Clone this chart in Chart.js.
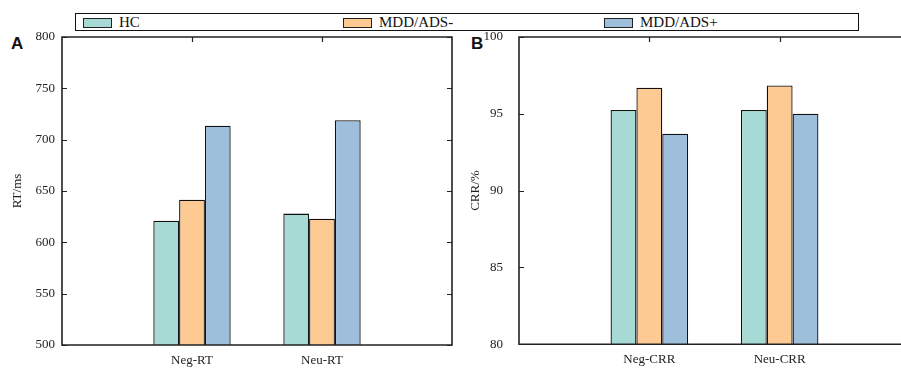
<!DOCTYPE html>
<html>
<head>
<meta charset="utf-8">
<script src="https://cdn.jsdelivr.net/npm/chart.js@4/dist/chart.umd.min.js"></script>
<style>
  html, body { margin:0; padding:0; background:#fff; }
  body { width:901px; height:368px; overflow:hidden; position:relative; font-family:"Liberation Serif", serif; }
  canvas { position:absolute; top:0; }
  #cA { left:0; }
  #cB { left:460px; }
  .letter { position:absolute; font-family:"Liberation Sans", Arial, sans-serif; font-weight:bold; font-size:17px; line-height:16px; color:#111; }
  #legend { position:absolute; left:75px; top:13px; width:782px; height:16px; border:1px solid #111; }
  .sw { position:absolute; top:4px; width:27px; height:8px; border:1px solid #222; }
  .lt { position:absolute; top:0px; font-size:15px; line-height:17px; color:#111; white-space:nowrap; }
</style>
</head>
<body>
<div id="legend"></div>
<div class="letter" style="left:11px; top:36px;">A</div>
<div class="letter" style="left:471px; top:36px;">B</div>
<canvas id="cA" width="460" height="368"></canvas>
<canvas id="cB" width="460" height="368"></canvas>
<script>
// ---- data ----
const seriesNames = ['HC', 'MDD/ADS-', 'MDD/ADS+'];
const seriesColors = ['#a7dad4', '#fdca93', '#9dbfdb'];

const categoriesRT = ['Neg-RT', 'Neu-RT'];
const rtHC = [621, 628];
const rtADSminus = [641.5, 623];
const rtADSplus = [713.5, 719];
const rtTicks = [500, 550, 600, 650, 700, 750, 800];

const categoriesCRR = ['Neg-CRR', 'Neu-CRR'];
const crrHC = [95.25, 95.25];
const crrADSminus = [96.7, 96.85];
const crrADSplus = [93.7, 95.0];
const crrTicks = [80, 85, 90, 95, 100];

// ---- legend ----
const legend = document.getElementById('legend');
const legendX = [7, 267, 528];
seriesNames.forEach((n, i) => {
  const sw = document.createElement('div');
  sw.className = 'sw';
  sw.style.left = legendX[i] + 'px';
  sw.style.background = seriesColors[i];
  legend.appendChild(sw);
  const t = document.createElement('div');
  t.className = 'lt';
  t.style.left = (legendX[i] + 36) + 'px';
  t.textContent = n;
  legend.appendChild(t);
});

Chart.defaults.font.family = '"Liberation Serif", "Times New Roman", serif';
Chart.defaults.font.size = 13;
Chart.defaults.color = '#222';

const framePlugin = {
  id: 'frame',
  afterDatasetsDraw(chart) {
    const { ctx, chartArea: a, scales } = chart;
    const y = scales.y, x = scales.x;
    ctx.save();
    ctx.strokeStyle = '#222';
    ctx.lineWidth = 1.6;
    ctx.beginPath();
    ctx.rect(a.left, a.top, a.right - a.left, a.bottom - a.top);
    ctx.stroke();
    ctx.lineWidth = 1.2;
    ctx.beginPath();
    y.ticks.forEach(t => {
      const py = Math.round(y.getPixelForValue(t.value)) + 0.5;
      ctx.moveTo(a.left, py); ctx.lineTo(a.left + 5, py);
      ctx.moveTo(a.right, py); ctx.lineTo(a.right - 5, py);
    });
    x.ticks.forEach((t, i) => {
      const lbl = chart.data.labels[i];
      if (!lbl) return;
      const px = Math.round(x.getPixelForTick(i)) + 0.5;
      ctx.moveTo(px, a.top); ctx.lineTo(px, a.top + 5);
    });
    ctx.stroke();
    ctx.restore();
  }
};

function pad(arr) { return [null, ...arr, null]; }

function makeChart(id, cats, sets, ticks, min, max, title, yWidth, tickPad, titlePad, rightPad) {
  return new Chart(document.getElementById(id), {
    type: 'bar',
    data: {
      labels: ['', ...cats, ''],
      datasets: sets.map((d, i) => ({
        label: seriesNames[i],
        data: pad(d),
        backgroundColor: seriesColors[i],
        borderColor: '#111',
        borderWidth: 1.3,
        borderSkipped: false,
        barPercentage: 1,
        categoryPercentage: 0.595
      }))
    },
    options: {
      responsive: false,
      animation: false,
      events: [],
      layout: { padding: { top: 37, right: rightPad, left: 0, bottom: 0 } },
      plugins: { legend: { display: false }, tooltip: { enabled: false } },
      scales: {
        x: {
          type: 'category',
          offset: false,
          grid: { display: false, drawTicks: false },
          border: { display: false },
          ticks: { autoSkip: false, maxRotation: 0, minRotation: 0, padding: 8, color: '#222', font: { size: 13 } },
          afterFit(s) { s.height = 23; }
        },
        y: {
          min: min, max: max,
          afterBuildTicks(s) { s.ticks = ticks.map(v => ({ value: v })); },
          grid: { display: false, drawTicks: false },
          border: { display: false },
          ticks: { padding: tickPad, color: '#222', font: { size: 13 } },
          title: { display: true, text: title, color: '#222', font: { size: 13 }, padding: { top: titlePad, bottom: 0 } },
          afterFit(s) { s.width = yWidth; }
        }
      }
    },
    plugins: [framePlugin]
  });
}

makeChart('cA', categoriesRT, [rtHC, rtADSminus, rtADSplus], rtTicks, 500, 800, 'RT/ms', 62, 7, 10, 7);
makeChart('cB', categoriesCRR, [crrHC, crrADSminus, crrADSplus], crrTicks, 80, 100, 'CRR/%', 59, 16, 8, 10);
</script>
</body>
</html>
